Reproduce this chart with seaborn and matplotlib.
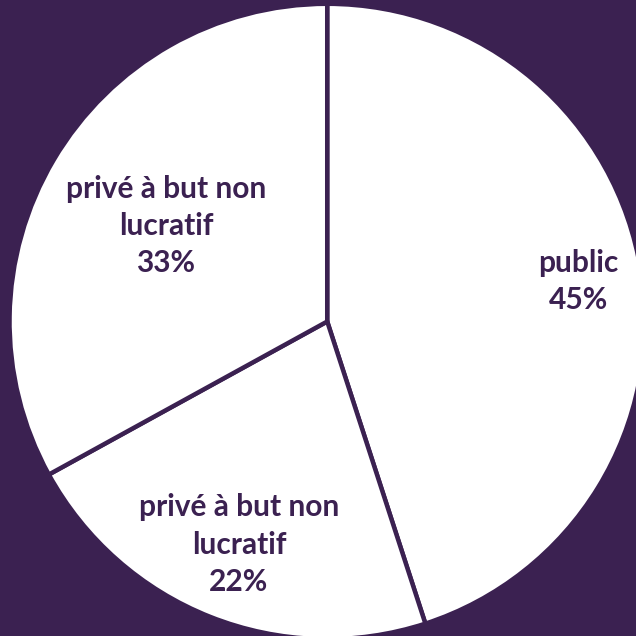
import numpy as np
import matplotlib.pyplot as plt
import seaborn as sns

# donnees du camembert
secteurs = ['public', 'privé à but non\nlucratif', 'privé à but non\nlucratif']
parts = [45, 22, 33]

fond = '#3B2151'
texte = '#3B2151'

sns.set_theme(style='white')
plt.rcParams['font.family'] = ['Lato', 'DejaVu Sans']

fig = plt.figure(figsize=(6.36, 6.36), dpi=100, facecolor=fond)
ax = fig.add_axes([0, 0, 1, 1])
ax.set_facecolor(fond)

wedges, _ = ax.pie(parts, startangle=90, counterclock=False,
                   colors=['white'] * len(parts),
                   wedgeprops=dict(edgecolor=fond, linewidth=3.2))

# distance des etiquettes au centre, par part
dist = [0.80, 0.755, 0.59]
for w, nom, p, d in zip(wedges, secteurs, parts, dist):
    ang = np.deg2rad((w.theta1 + w.theta2) / 2)
    ax.text(d * np.cos(ang), d * np.sin(ang), f'{nom}\n{p}%',
            ha='center', va='center', fontsize=21.5, fontweight='bold',
            color=texte, linespacing=1.4)

ax.set_xlim(-1.03, 0.972)
ax.set_ylim(-0.99, 1.012)
ax.set_aspect('equal')
ax.axis('off')

plt.savefig('out.png', facecolor=fond)
